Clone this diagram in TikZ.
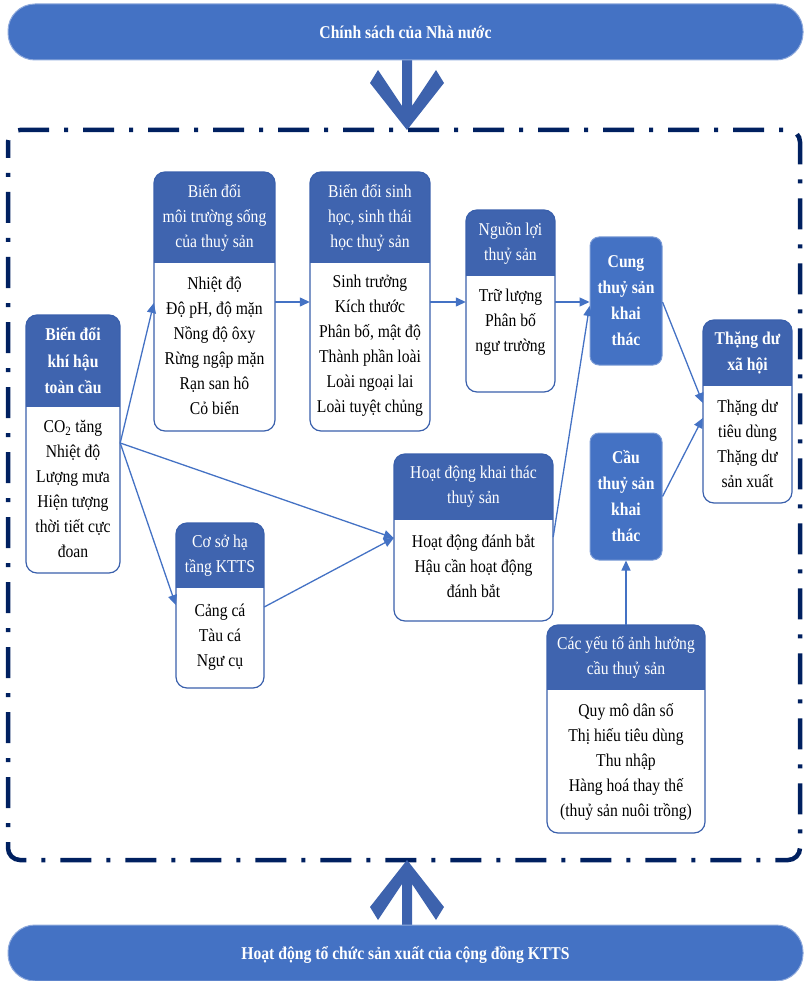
\documentclass[tikz,border=0pt]{standalone}
\usepackage{fontspec}
\setmainfont{Liberation Serif}[FakeStretch=0.87]
\usetikzlibrary{arrows.meta,fit}
\definecolor{banner}{HTML}{4472C4}
\definecolor{hdr}{HTML}{3F64AF}
\definecolor{bord}{HTML}{3A60AC}
\definecolor{chev}{HTML}{3D62AD}
\definecolor{frame}{HTML}{002060}
\definecolor{conn}{HTML}{4472C4}
\tikzset{
  bannerbox/.style={fill=banner,draw=banner!60!white,line width=1pt,rounded corners=27pt},
  bannertext/.style={text=white,font=\fontsize{18}{20}\selectfont\bfseries},
  boxborder/.style={draw=bord,line width=1.2pt,rounded corners=11pt},
  htext/.style={text=white,align=center,inner sep=0pt,font=\fontsize{18}{25}\selectfont},
  btext/.style={text=black,align=center,inner sep=0pt,font=\fontsize{18}{25}\selectfont},
  part/.style={inner sep=0pt,draw=none},
  sbox/.style={fill=banner,draw=banner!70!white,line width=1pt,rounded corners=9pt,
    text=white,align=center,inner sep=0pt,font=\fontsize{18}{26}\selectfont\bfseries},
  connline/.style={draw=conn,line width=1.3pt,-{Triangle[length=10pt,width=9pt]}},
  dashframe/.style={draw=frame,line width=4.5pt,rounded corners=12pt,
    dash pattern=on 31pt off 15pt on 4pt off 15pt,dash phase=-50pt},
  chevron/.style={fill=chev}
}
\newcommand\tbox[9]{%
  \begin{scope}
    \clip[rounded corners=11pt] (#2,#3) rectangle (#4,#6);
    \fill[white] (#2,#3) rectangle (#4,#6);
    \fill[hdr] (#2,#3) rectangle (#4,#5);
  \end{scope}
  \draw[boxborder] (#2,#3) rectangle (#4,#6);
  \node[part,fit={(#2,#3) (#4,#5)}] (#1h) {};
  \node[part,fit={(#2,#5) (#4,#6)}] (#1b) {};
  \node[htext] (#1ht) at (#1h.center) {#7};
  \node[btext] (#1bt) at ({(#2+#4)/2},#8) {#9};
}
\begin{document}
\begin{tikzpicture}[x=1pt,y=-1pt]
\useasboundingbox (0,0) rectangle (805,981);
% frame
\draw[dashframe] (8,130) rectangle (800,860);
% chevron arrows
\fill[chevron] (402,50) -- (402,106) -- (378,70) -- (370,83) -- (407,130) -- (444,83) -- (436,70) -- (412,106) -- (412,50) -- cycle;
\fill[chevron] (402,940) -- (402,884) -- (378,920) -- (370,907) -- (407,860) -- (444,907) -- (436,920) -- (412,884) -- (412,940) -- cycle;
% banners
\node[bannerbox,minimum width=795pt,minimum height=56pt] (top) at (405.5,32) {};
\node[bannertext] (topt) at (top.center) {Chính sách của Nhà nước};
\node[bannerbox,minimum width=795pt,minimum height=56pt] (bot) at (405.5,953) {};
\node[bannertext] (bott) at (405.5,955) {Hoạt động tổ chức sản xuất của cộng đồng KTTS};
% boxes
\tbox{b1}{26}{315}{120}{407}{573}{\textbf{Biến đổi}\\[1.5pt]\textbf{khí hậu}\\[1.5pt]\textbf{toàn cầu}}{489}{CO\textsubscript{2} tăng\\Nhiệt độ\\Lượng mưa\\Hiện tượng\\thời tiết cực\\đoan}
\tbox{b2}{154}{172}{275}{263}{431}{Biến đổi\\môi trường sống\\của thuỷ sản}{346}{Nhiệt độ\\Độ pH, độ mặn\\Nồng độ ôxy\\Rừng ngập mặn\\Rạn san hô\\Cỏ biển}
\tbox{b3}{310}{172}{430}{263}{431}{Biến đổi sinh\\học, sinh thái\\học thuỷ sản}{346}{Sinh trưởng\\Kích thước\\Phân bố, mật độ\\Thành phần loài\\Loài ngoại lai\\Loài tuyệt chủng}
\tbox{b4}{466}{210}{555}{276}{392}{Nguồn lợi\\thuỷ sản}{322}{Trữ lượng\\Phân bố\\ngư trường}
\tbox{b7}{703}{320}{792}{386}{503}{\textbf{Thặng dư}\\[1pt]\textbf{xã hội}}{444}{Thặng dư\\tiêu dùng\\Thặng dư\\sản xuất}
\tbox{b8}{176}{523}{264}{588}{688}{Cơ sở hạ\\tầng KTTS}{637}{Cảng cá\\Tàu cá\\Ngư cụ}
\tbox{b9}{394}{454}{553}{520}{621}{Hoạt động khai thác\\thuỷ sản}{566}{Hoạt động đánh bắt\\Hậu cần hoạt động\\đánh bắt}
\tbox{b10}{547}{625}{705}{690}{833}{Các yếu tố ảnh hưởng\\cầu thuỷ sản}{762}{Quy mô dân số\\Thị hiếu tiêu dùng\\Thu nhập\\Hàng hoá thay thế\\(thuỷ sản nuôi trồng)}
\node[sbox,minimum width=72pt,minimum height=128pt] (b5) at (626,301) {Cung\\thuỷ sản\\khai\\thác};
\node[sbox,minimum width=72pt,minimum height=127pt] (b6) at (626,496.5) {Cầu\\thuỷ sản\\khai\\thác};
% connectors
\draw[connline] ([yshift=47pt]b1b.east) -- ([yshift=44pt]b2b.west);
\draw[connline] ([yshift=47pt]b1b.east) -- ([yshift=32.5pt]b9b.west);
\draw[connline] ([yshift=47pt]b1b.east) -- ([yshift=33pt]b8b.west);
\draw[connline] ([yshift=31pt]b8b.east) -- ([yshift=32.5pt]b9b.west);
\draw[connline] ([yshift=45pt]b2b.east) -- ([yshift=45pt]b3b.west);
\draw[connline] ([yshift=45pt]b3b.east) -- ([yshift=32pt]b4b.west);
\draw[connline] ([yshift=32pt]b4b.east) -- ([yshift=-1pt]b5.west);
\draw[connline] ([yshift=33.5pt]b9b.east) -- ([yshift=-5pt]b5.west);
\draw[connline] ([yshift=-1pt]b5.east) -- ([yshift=41.5pt]b7b.west);
\draw[connline] (b6.east) -- ([yshift=26.5pt]b7b.west);
\draw[connline] (b10h.north) -- (b6.south);
\end{tikzpicture}
\end{document}
